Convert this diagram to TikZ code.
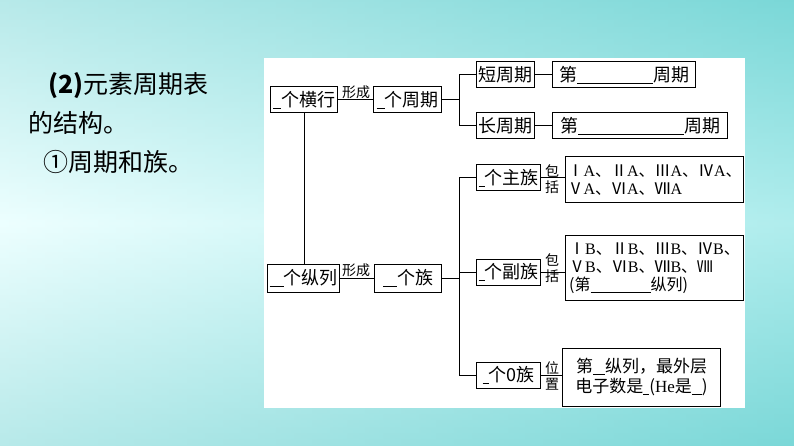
\documentclass[tikz,border=0pt]{standalone}
\usepackage{fontspec}
\setmainfont{Liberation Serif}
\newfontfamily\cjk{Noto Sans CJK SC}
\newcommand{\bl}[1]{\rule[-2pt]{#1}{0.6pt}}
\begin{document}
\begin{tikzpicture}[x=1pt,y=-1pt,
  bx/.style={draw,line width=1pt,inner sep=1pt,font=\cjk\fontsize{18}{20}\selectfont,anchor=west},
  lb/.style={font=\cjk\fontsize{14}{15}\selectfont,inner sep=0pt},
  ln/.style={line width=1pt}]
\useasboundingbox (0,0) rectangle (794,446);
\shade[left color=cyan!10!white,right color=cyan!50!teal!70!white] (0,0) rectangle (794,446);
\shade[top color=cyan!30!teal!40!white,bottom color=cyan!30!teal!40!white,middle color=cyan!5!white,opacity=0.6] (0,0) rectangle (794,446);
\fill[white] (264,58) rectangle (745,408);
% left text
\node[anchor=west,font=\cjk\fontsize{25}{28}\selectfont,inner sep=0pt] (t1) at (48,86) {\textbf{(2)}元素周期表};
\node[anchor=west,font=\cjk\fontsize{25}{28}\selectfont,inner sep=0pt] (t2) at (28,123) {的结构。};
\node[anchor=west,font=\cjk\fontsize{25}{28}\selectfont,inner sep=0pt] (t3) at (43,162) {①周期和族。};
% boxes
\node[bx,minimum width=67,minimum height=26] (hh) at (270,100) {\bl{8pt}个横行};
\node[bx,minimum width=68,minimum height=26] (zq) at (373,100) {\bl{8pt}个周期};
\node[bx,minimum width=58,minimum height=26] (dz) at (476,75) {短周期};
\node[bx,minimum width=143,minimum height=26] (dd) at (552,75) {第\bl{76pt}周期};
\node[bx,minimum width=175,minimum height=26] (cc) at (552,126) {第\bl{106pt}周期};
\node[bx,minimum width=58,minimum height=26] (cz) at (476,126) {长周期};
\node[bx,minimum width=72,minimum height=28] (zl) at (267,278) {\bl{14pt}个纵列};
\node[bx,minimum width=67,minimum height=28] (gz) at (374,278) {\bl{14pt}个族};
\node[bx,minimum width=64,minimum height=26] (zz) at (476,178) {\bl{6pt}个主族};
\node[bx,minimum width=64,minimum height=26] (fz) at (476,272) {\bl{6pt}个副族};
\node[bx,minimum width=64,minimum height=26] (lz) at (476,375) {\bl{6pt}个0族};
\node[bx,minimum width=178,minimum height=46,align=left,inner sep=2pt,font=\cjk\fontsize{16}{18}\selectfont] (zb) at (565,180) {Ⅰ{\rmfamily A}、Ⅱ{\rmfamily A}、Ⅲ{\rmfamily A}、Ⅳ{\rmfamily A}、\\Ⅴ{\rmfamily A}、Ⅵ{\rmfamily A}、Ⅶ{\rmfamily A}};
\node[bx,minimum width=178,minimum height=65,align=left,inner sep=2pt,font=\cjk\fontsize{16}{18}\selectfont] (fb) at (565,268) {Ⅰ{\rmfamily B}、Ⅱ{\rmfamily B}、Ⅲ{\rmfamily B}、Ⅳ{\rmfamily B}、\\Ⅴ{\rmfamily B}、Ⅵ{\rmfamily B}、Ⅶ{\rmfamily B}、Ⅷ\\({第}\bl{60pt}纵列)};
\node[bx,minimum width=158,minimum height=58,align=center,font=\cjk\fontsize{17}{20}\selectfont] (lb0) at (562,377) {第\bl{12pt}纵列，最外层\\电子数是\bl{6pt}({\rmfamily He}是\bl{10pt})};
% labels
\node[lb,anchor=south] (x1) at (356,99) {形成};
\node[lb,anchor=south] (x2) at (356,277) {形成};
\node[lb,align=center] (b1) at (552,179) {包\\[1pt]括};
\node[lb,align=center] (b2) at (552,268) {包\\[1pt]括};
\node[lb,align=center] (b3) at (552,376) {位\\[1pt]置};
% connectors
\draw[ln] (hh.east) -- (zq.west);
\draw[ln] (zl.east) -- (gz.west);
\draw[ln] (hh.south) -- (hh.south |- zl.north);
\draw[ln] (zq.east) -- (459,100);
\draw[ln] (dz.west) -| (459,126) -- (cz.west);
\draw[ln] (gz.east) -- (459,278);
\draw[ln] (zz.west) -| (459,375) -- (lz.west);
\draw[ln] (fz.west) -- (459,272);
\draw[ln] (dz.east) -- (dd.west);
\draw[ln] (cz.east) -- (cc.west);
\draw[ln] (zz.east) -- (zz.east -| zb.west);
\draw[ln] (fz.east) -- (fz.east -| fb.west);
\draw[ln] (lz.east) -- (lz.east -| lb0.west);
\end{tikzpicture}
\end{document}
